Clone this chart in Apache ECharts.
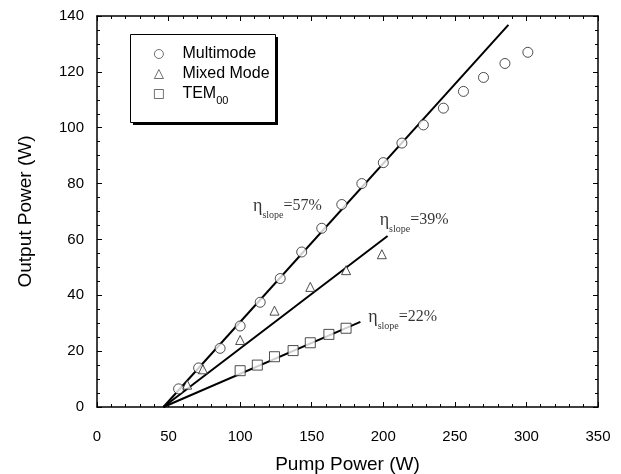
<!DOCTYPE html>
<html>
<head>
<meta charset="utf-8">
<script src="https://cdn.jsdelivr.net/npm/echarts@6/dist/echarts.min.js"></script>
<style>html,body{margin:0;padding:0;background:#fff;}#c{width:621px;height:474px;}</style>
</head>
<body>
<div id="c"></div>
<script>
// Data
const multiX = [57, 71, 86, 100, 114, 128, 143, 157, 171, 185, 200, 213, 228, 242, 256, 270, 285, 301];
const multiY = [6.5, 14, 21, 29, 37.5, 46, 55.5, 64, 72.5, 80, 87.5, 94.5, 101, 107, 113, 118, 123, 127];
const mixedX = [63, 74, 100, 124, 149, 174, 199];
const mixedY = [8, 13.5, 24, 34.5, 43, 49, 54.7];
const temX = [100, 112, 124, 137, 149, 162, 174];
const temY = [13, 15, 18, 20.2, 23, 26, 28.2];
// Fitted slope lines (start, end)
const fitMultiX = [46.4, 287.4]; const fitMultiY = [0, 136.8];
const fitMixedX = [46.4, 203]; const fitMixedY = [0, 61.2];
const fitTemX = [46.4, 184]; const fitTemY = [0, 30.5];
// Annotations
const annoText = ['57%', '39%', '22%'];
const annoX = [109, 197.5, 189.5];
const annoY = [72, 67, 32.2];
const xTicks = [0, 50, 100, 150, 200, 250, 300, 350];
const yTicks = [0, 20, 40, 60, 80, 100, 120, 140];
const legendNames = ['Multimode', 'Mixed Mode', 'TEM'];

const zip = (a, b) => a.map((v, i) => [v, b[i]]);

const chart = echarts.init(document.getElementById('c'), null, {renderer: 'canvas'});
const sans = 'Liberation Sans, Arial, sans-serif';
const serif = 'Liberation Serif, Times New Roman, serif';

function baseX(pos, show) {
  return {
    type: 'value', position: pos, min: xTicks[0], max: xTicks[xTicks.length - 1], interval: 50,
    axisLine: {show: true, onZero: false, lineStyle: {color: '#000', width: 1.5}},
    axisTick: {show: true, inside: true, length: 5, lineStyle: {color: '#000', width: 1}},
    minorTick: {show: true, splitNumber: 5, length: 3, lineStyle: {color: '#000', width: 1}},
    splitLine: {show: false},
    axisLabel: {show: show, color: '#000', fontFamily: sans, fontSize: 15, margin: 22},
    name: show ? 'Pump Power (W)' : '', nameLocation: 'middle', nameGap: 48,
    nameTextStyle: {color: '#000', fontFamily: sans, fontSize: 19}
  };
}
function baseY(pos, show) {
  return {
    type: 'value', position: pos, min: yTicks[0], max: yTicks[yTicks.length - 1], interval: 20,
    axisLine: {show: true, onZero: false, lineStyle: {color: '#000', width: 1.5}},
    axisTick: {show: true, inside: true, length: 5, lineStyle: {color: '#000', width: 1}},
    minorTick: {show: true, splitNumber: 4, length: 3, lineStyle: {color: '#000', width: 1}},
    splitLine: {show: false},
    axisLabel: {show: show, color: '#000', fontFamily: sans, fontSize: 15, margin: 13},
    name: show ? 'Output Power (W)' : '', nameLocation: 'middle', nameGap: 62, nameRotate: 90,
    nameTextStyle: {color: '#000', fontFamily: sans, fontSize: 19}
  };
}

const annoRich = {
  eta: {fontFamily: serif, fontSize: 18, color: '#000'},
  sub: {fontFamily: serif, fontSize: 10, color: '#000', padding: [18, 0, 0, 0]},
  val: {fontFamily: serif, fontSize: 16, color: '#000'}
};

const scatterCommon = {type: 'scatter', symbolSize: 10, symbolKeepAspect: true,
  itemStyle: {color: '#fff', borderColor: '#222', borderWidth: 1}, z: 3};
const lineCommon = {type: 'line', symbol: 'none', lineStyle: {color: '#000', width: 2}, z: 2, silent: true};

chart.setOption({
  animation: false,
  backgroundColor: '#fff',
  grid: {left: 97, right: 23, top: 16, bottom: 67, outerBoundsMode: 'none', containLabel: false},
  xAxis: [baseX('bottom', true), baseX('top', false)],
  yAxis: [baseY('left', true), baseY('right', false)],
  graphic: [
    {type: 'rect', left: 133, top: 37, shape: {width: 145, height: 88}, style: {fill: '#000'}, z: 10},
    {type: 'rect', left: 130, top: 34, shape: {width: 145, height: 88}, style: {fill: '#fff', stroke: '#000', lineWidth: 1}, z: 11}
  ],
  legend: {
    orient: 'vertical', left: 130, top: 34, z: 20,
    itemWidth: 9, itemHeight: 9, itemGap: 4,
    symbolKeepAspect: true,
    padding: [12, 6, 10, 24],
    data: legendNames,
    itemStyle: {borderWidth: 0.8},
    textStyle: {color: '#000', fontFamily: sans, fontSize: 16,
      rich: {
        sp: {width: 14},
        t: {fontFamily: sans, fontSize: 16, color: '#000'},
        sub: {fontFamily: sans, fontSize: 11, color: '#000', padding: [14, 0, 0, 0]}
      }},
    formatter: function (n) { return n === 'TEM' ? '{sp|}{t|TEM}{sub|00}' : '{sp|}{t|' + n + '}'; }
  },
  series: [
    Object.assign({}, scatterCommon, {name: legendNames[0], symbol: 'circle', data: zip(multiX, multiY)}),
    Object.assign({}, scatterCommon, {name: legendNames[1], symbol: 'triangle', symbolSize: 9, data: zip(mixedX, mixedY)}),
    Object.assign({}, scatterCommon, {name: legendNames[2], symbol: 'rect', symbolSize: 10, data: zip(temX, temY)}),
    Object.assign({}, lineCommon, {name: 'fit1', data: zip(fitMultiX, fitMultiY)}),
    Object.assign({}, lineCommon, {name: 'fit2', data: zip(fitMixedX, fitMixedY)}),
    Object.assign({}, lineCommon, {name: 'fit3', data: zip(fitTemX, fitTemY)}),
    {
      type: 'scatter', name: 'anno', symbolSize: 0, silent: true, z: 4,
      data: annoX.map((x, i) => ({value: [x, annoY[i]], txt: annoText[i]})),
      label: {
        show: true, position: 'right', distance: 0,
        formatter: function (p) { return '{eta|η}{sub|slope}{val|=' + p.data.txt + '}'; },
        rich: annoRich
      }
    }
  ]
});
</script>
</body>
</html>
